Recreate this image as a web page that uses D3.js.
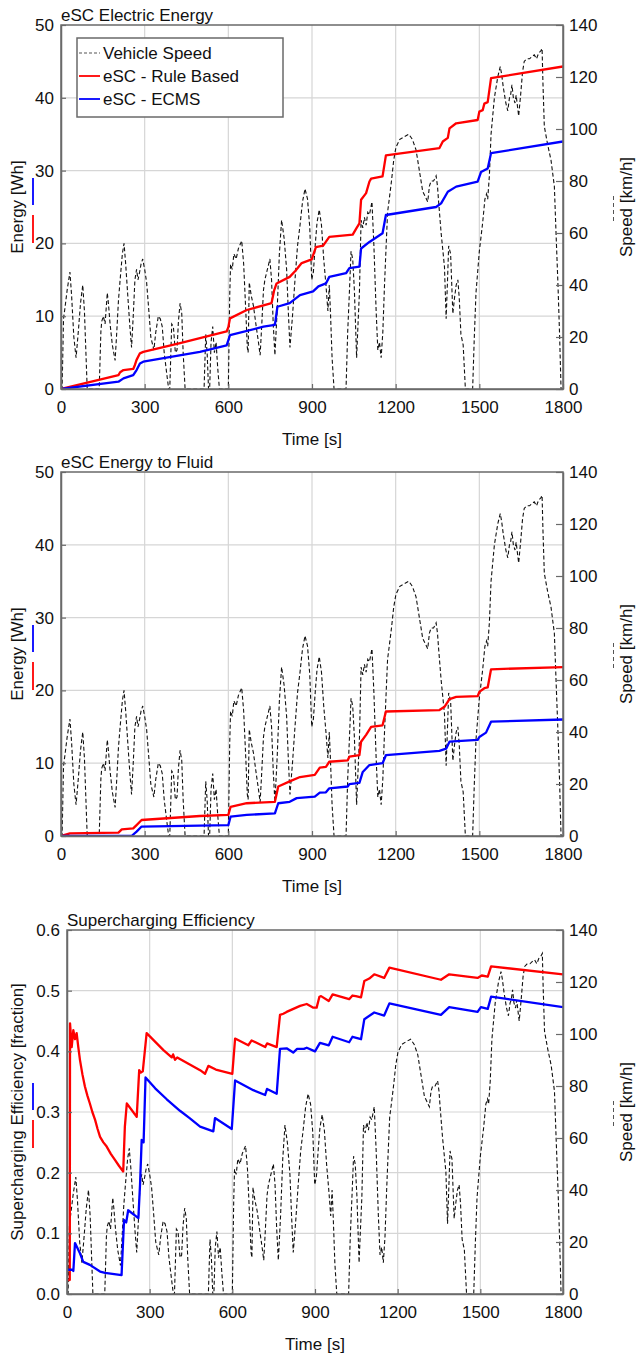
<!DOCTYPE html>
<html>
<head>
<meta charset="utf-8">
<script src="https://cdn.jsdelivr.net/npm/d3@7/dist/d3.min.js"></script>
<style>
  html, body { margin: 0; padding: 0; background: #fff; }
  svg { display: block; }
  text { font-family: "Liberation Sans", Arial, sans-serif; fill: #111; }
</style>
</head>
<body>
<svg id="chart" width="636" height="1353"></svg>
<script>
// Drive cycle: time [s] and vehicle speed [km/h]
const speedTime = [0,4,9,14,22,32,38,46,54,62,70,78,84,90,94,137,143,146,152,158,166,170,176,184,194,200,206,212,220,226,232,240,247,253,259,265,271,276,282,287,293,300,307,315,322,333,340,349,356,363,370,379,386,390,397,403,410,416,421,427,433,438,445,513,519,524,529,533,538,544,550,556,562,568,600,605,608,614,620,628,636,648,655,663,668,671,675,682,690,700,708,714,720,726,731,740,749,755,761,767,775,783,791,800,809,815,821,830,839,848,857,866,875,884,892,899,905,912,918,926,934,942,950,957,962,966,972,979,1022,1028,1034,1040,1046,1052,1060,1065,1070,1076,1082,1088,1094,1100,1106,1115,1122,1130,1136,1142,1148,1154,1160,1165,1171,1177,1185,1193,1201,1215,1230,1247,1260,1273,1285,1297,1306,1315,1321,1327,1336,1345,1350,1354,1363,1375,1381,1386,1390,1397,1405,1411,1417,1423,1428,1434,1442,1450,1476,1482,1488,1500,1512,1520,1526,1530,1536,1542,1554,1566,1575,1580,1586,1595,1602,1608,1612,1617,1622,1628,1632,1641,1648,1655,1661,1670,1680,1690,1697,1705,1712,1720,1725,1728,1733,1745,1757,1769,1775,1782,1788,1793,1800];
const speedKmh  = [0,0,27,31,38,45,36,20,12,22,33,40,30,12,0,0,22,26,28,25,37,33,25,17,11,22,34,42,52,56,48,35,24,16,28,42,46,42,45,48,50,46,41,30,20,15,22,28,27,24,14,6,0,0,25,24,14,15,26,33,29,14,0,0,21,14,0,0,18,24,14,18,8,0,0,36,48,46,52,50,54,57,48,29,16,14,41,36,32,24,18,13,25,38,42,46,50,42,25,13,30,52,65,58,46,30,16,28,42,55,63,72,77,73,62,42,45,56,64,69,63,50,40,30,40,30,12,0,0,22,37,53,50,38,12,25,37,65,62,66,63,68,67,72,55,30,15,18,12,22,40,53,68,73,80,88,93,96,97,98,96,92,84,76,74,72,78,80,80,82,78,72,60,47,27,42,55,52,29,35,40,42,35,21,17,0,0,20,37,53,64,73,75,73,82,98,112,120,124,121,116,110,107,112,113,117,112,110,113,105,113,122,126,127,127,128,128.5,127,129,130,131,118,101,94,88,78,60,40,20,0,0];

// eSC electric energy [Wh]
const ruleElecTime = [0,206,212,224,259,265,271,283,295,427,594,600,606,666,755,764,773,820,840,863,899,914,940,962,1046,1058,1070,1076,1094,1106,1112,1153,1165,1357,1369,1387,1393,1417,1494,1500,1512,1518,1530,1542,1800];
const ruleElecWh   = [0,1.9,2.3,2.6,2.75,3.3,4.0,4.9,5.1,6.3,7.9,8.5,9.7,10.85,11.8,13.5,14.5,15.4,16.2,17.3,17.8,19.5,19.7,20.9,21.2,22.0,22.75,26.0,26.9,28.5,28.9,29.2,32.1,33.1,34.0,34.5,35.8,36.5,36.95,38.1,38.3,39.2,39.4,42.7,44.3];
const ecmsElecTime = [0,206,224,259,271,283,295,498,594,606,726,767,776,820,857,904,923,950,962,1022,1034,1070,1076,1106,1153,1165,1345,1363,1387,1417,1494,1506,1530,1542,1800];
const ecmsElecWh   = [0,1.0,1.46,1.9,2.6,3.5,3.75,5.1,6.0,7.4,8.56,8.8,11.3,11.8,12.9,13.4,14.1,14.5,15.4,15.9,16.6,16.8,19.3,20.2,21.4,23.9,25.0,25.5,27.1,27.8,28.5,29.8,30.3,32.4,34.0];

// eSC energy delivered to the fluid [Wh]
const ruleFluidTime = [0,32,206,218,259,271,289,498,600,608,666,767,779,820,857,910,928,950,962,1028,1034,1070,1076,1094,1112,1153,1165,1357,1375,1393,1417,1494,1500,1518,1530,1542,1800];
const ruleFluidWh   = [0,0.37,0.46,0.9,1.05,1.5,2.2,2.75,2.9,4.0,4.5,4.7,6.8,7.5,8.1,8.4,9.4,9.5,10.2,10.4,10.9,11.1,12.95,13.9,15.0,15.2,17.1,17.3,17.75,18.8,19.1,19.2,19.8,20.3,20.4,22.9,23.2];
const ecmsFluidTime = [0,253,271,289,600,608,666,767,779,820,845,910,928,950,962,1028,1034,1070,1082,1106,1153,1165,1357,1381,1393,1494,1500,1524,1542,1800];
const ecmsFluidWh   = [0,0,0.6,1.3,1.5,2.65,2.9,3.1,4.5,4.7,5.2,5.4,5.95,6.0,6.55,6.8,7.14,7.3,8.8,9.75,10.0,11.1,11.7,12.0,12.95,13.2,13.6,14.2,15.7,16.0];

// Supercharging efficiency [fraction]
const ruleEffTime = [0,10,11,17,23,29,35,41,47,56,65,74,83,92,102,111,120,132,144,159,174,189,204,210,217,232,253,262,268,275,289,350,380,385,392,400,483,501,513,540,600,610,658,670,719,726,761,773,785,797,846,870,894,906,916,922,950,964,1024,1036,1048,1067,1079,1097,1115,1151,1170,1357,1387,1490,1505,1527,1539,1800];
const ruleEff     = [0.023,0.023,0.446,0.407,0.435,0.42,0.43,0.407,0.386,0.362,0.342,0.327,0.314,0.3,0.287,0.272,0.259,0.25,0.243,0.231,0.221,0.211,0.202,0.276,0.314,0.305,0.292,0.369,0.365,0.367,0.43,0.402,0.39,0.395,0.386,0.39,0.369,0.363,0.376,0.37,0.363,0.421,0.41,0.418,0.407,0.413,0.407,0.46,0.462,0.465,0.475,0.478,0.472,0.472,0.49,0.491,0.483,0.494,0.486,0.492,0.491,0.489,0.516,0.52,0.527,0.521,0.538,0.518,0.527,0.521,0.525,0.523,0.54,0.527];
const ecmsEffTime = [0,18,23,29,47,59,83,120,138,198,207,215,222,259,265,271,278,285,320,362,410,445,483,531,537,598,610,676,719,726,761,773,797,821,835,860,870,900,918,950,964,1024,1036,1067,1079,1115,1151,1170,1357,1387,1490,1502,1527,1539,1800];
const ecmsEff     = [0.04,0.04,0.038,0.084,0.067,0.053,0.048,0.037,0.035,0.031,0.122,0.118,0.138,0.125,0.18,0.254,0.25,0.357,0.339,0.321,0.302,0.29,0.276,0.268,0.29,0.272,0.352,0.336,0.328,0.338,0.33,0.404,0.405,0.398,0.404,0.404,0.406,0.4,0.414,0.41,0.424,0.415,0.424,0.42,0.453,0.464,0.459,0.479,0.46,0.473,0.465,0.473,0.47,0.49,0.473];

// Axis ticks
const timeTicks = [0, 300, 600, 900, 1200, 1500, 1800];
const speedTicks = [0, 20, 40, 60, 80, 100, 120, 140];
const energyTicks = [0, 10, 20, 30, 40, 50];
const effTicks = [0, 0.1, 0.2, 0.3, 0.4, 0.5, 0.6];

const legendLabels = ["Vehicle Speed", "eSC - Rule Based", "eSC - ECMS"];

const RED = "#ff0000", BLUE = "#0000ff";
const AXIS = "#6a6a6a", GRID = "#d6d6d6";
const FONT = 17;

const zip = (xs, ys) => xs.map((x, i) => [x, ys[i]]);
const speedData = zip(speedTime, speedKmh);

const panels = [
  { title: "eSC Electric Energy", left: 61, right: 563, top: 25, bottom: 389,
    yLabel: "Energy [Wh]", yDomain: [0, 50], yTicks: energyTicks, yFmt: d3.format("d"),
    red: zip(ruleElecTime, ruleElecWh), blue: zip(ecmsElecTime, ecmsElecWh), legend: true },
  { title: "eSC Energy to Fluid", left: 61, right: 563, top: 472, bottom: 836,
    yLabel: "Energy [Wh]", yDomain: [0, 50], yTicks: energyTicks, yFmt: d3.format("d"),
    red: zip(ruleFluidTime, ruleFluidWh), blue: zip(ecmsFluidTime, ecmsFluidWh), legend: false },
  { title: "Supercharging Efficiency", left: 67, right: 563, top: 930, bottom: 1294,
    yLabel: "Supercharging Efficiency [fraction]", yDomain: [0, 0.6], yTicks: effTicks, yFmt: d3.format(".1f"),
    red: zip(ruleEffTime, ruleEff), blue: zip(ecmsEffTime, ecmsEff), legend: false }
];

const svg = d3.select("#chart");

panels.forEach((p, idx) => {
  const x = d3.scaleLinear().domain([0, 1800]).range([p.left, p.right]);
  const y = d3.scaleLinear().domain(p.yDomain).range([p.bottom, p.top]);
  const ySpeed = d3.scaleLinear().domain([0, 140]).range([p.bottom, p.top]);
  const g = svg.append("g");
  const clipId = "clip" + idx;
  svg.append("clipPath").attr("id", clipId).append("rect")
    .attr("x", p.left).attr("y", p.top - 2)
    .attr("width", p.right - p.left).attr("height", p.bottom - p.top + 3);

  // grid
  g.append("g").selectAll("line").data(timeTicks.slice(1, -1)).join("line")
    .attr("x1", d => x(d)).attr("x2", d => x(d))
    .attr("y1", p.top).attr("y2", p.bottom)
    .attr("stroke", GRID).attr("stroke-width", 1.2);
  g.append("g").selectAll("line").data(p.yTicks.slice(1, -1)).join("line")
    .attr("x1", p.left).attr("x2", p.right)
    .attr("y1", d => y(d)).attr("y2", d => y(d))
    .attr("stroke", GRID).attr("stroke-width", 1.2);

  // series
  const plot = g.append("g").attr("clip-path", `url(#${clipId})`);
  const speedLine = d3.line().x(d => x(d[0])).y(d => ySpeed(d[1]));
  const valLine = d3.line().x(d => x(d[0])).y(d => y(d[1]));
  plot.append("path").datum(speedData).attr("d", speedLine)
    .attr("fill", "none").attr("stroke", "#111").attr("stroke-width", 1.1)
    .attr("stroke-dasharray", "4,2.5");
  plot.append("path").datum(p.red).attr("d", valLine)
    .attr("fill", "none").attr("stroke", RED).attr("stroke-width", 2.3)
    .attr("stroke-linejoin", "round");
  plot.append("path").datum(p.blue).attr("d", valLine)
    .attr("fill", "none").attr("stroke", BLUE).attr("stroke-width", 2.3)
    .attr("stroke-linejoin", "round");

  // frame
  g.append("rect").attr("x", p.left).attr("y", p.top)
    .attr("width", p.right - p.left).attr("height", p.bottom - p.top)
    .attr("fill", "none").attr("stroke", AXIS).attr("stroke-width", 1.5);

  // axes
  const xAxis = d3.axisBottom(x).tickValues(timeTicks).tickFormat(d3.format("d"))
    .tickSizeInner(-5).tickSizeOuter(0).tickPadding(12);
  const yAxis = d3.axisLeft(y).tickValues(p.yTicks).tickFormat(p.yFmt).tickSizeInner(-5).tickSizeOuter(0).tickPadding(7);
  const sAxis = d3.axisRight(ySpeed).tickValues(speedTicks).tickFormat(d3.format("d"))
    .tickSizeInner(-7).tickSizeOuter(0).tickPadding(6);
  [[xAxis, `translate(0,${p.bottom})`], [yAxis, `translate(${p.left},0)`], [sAxis, `translate(${p.right},0)`]]
    .forEach(([ax, tr]) => {
      const a = g.append("g").attr("transform", tr).call(ax);
      a.select(".domain").attr("stroke", AXIS).attr("stroke-width", 1.5);
      a.selectAll(".tick line").attr("stroke", AXIS).attr("stroke-width", 1.2);
      a.selectAll(".tick text").attr("font-size", FONT)
        .attr("font-family", '"Liberation Sans", Arial, sans-serif').attr("fill", "#111");
    });

  // titles and labels
  g.append("text").attr("x", p.left).attr("y", p.top - 4)
    .attr("font-size", FONT).text(p.title);
  g.append("text").attr("x", (p.left + p.right) / 2).attr("y", p.bottom + 56)
    .attr("text-anchor", "middle").attr("font-size", FONT).text("Time [s]");
  const cy = (p.top + p.bottom) / 2;
  g.append("text").attr("transform", `translate(23,${cy}) rotate(-90)`)
    .attr("text-anchor", "middle").attr("font-size", FONT).text(p.yLabel);
  g.append("text").attr("transform", `translate(632,${cy}) rotate(-90)`)
    .attr("text-anchor", "middle").attr("font-size", FONT).text("Speed [km/h]");

  // colour keys next to the axis labels
  g.append("line").attr("x1", 33).attr("x2", 33).attr("y1", cy - 29).attr("y2", cy - 2)
    .attr("stroke", BLUE).attr("stroke-width", 1.8);
  g.append("line").attr("x1", 33).attr("x2", 33).attr("y1", cy + 8).attr("y2", cy + 36)
    .attr("stroke", RED).attr("stroke-width", 1.8);
  g.append("line").attr("x1", 613.5).attr("x2", 613.5).attr("y1", cy - 11).attr("y2", cy + 16)
    .attr("stroke", "#555").attr("stroke-width", 1).attr("stroke-dasharray", "4,3");

  // legend
  if (p.legend) {
    const lg = g.append("g");
    lg.append("rect").attr("x", 77).attr("y", 38).attr("width", 206).attr("height", 79)
      .attr("fill", "#fff").attr("stroke", AXIS).attr("stroke-width", 1.5);
    const styles = [
      { c: "#555", w: 1.1, dash: "3,2" },
      { c: RED, w: 1.8, dash: null },
      { c: BLUE, w: 1.8, dash: null }
    ];
    legendLabels.forEach((lab, i) => {
      const yy = 53 + i * 23;
      lg.append("line").attr("x1", 79).attr("x2", 100).attr("y1", yy).attr("y2", yy)
        .attr("stroke", styles[i].c).attr("stroke-width", styles[i].w)
        .attr("stroke-dasharray", styles[i].dash);
      lg.append("text").attr("x", 103).attr("y", yy + 6).attr("font-size", FONT).text(lab);
    });
  }
});
</script>
</body>
</html>
